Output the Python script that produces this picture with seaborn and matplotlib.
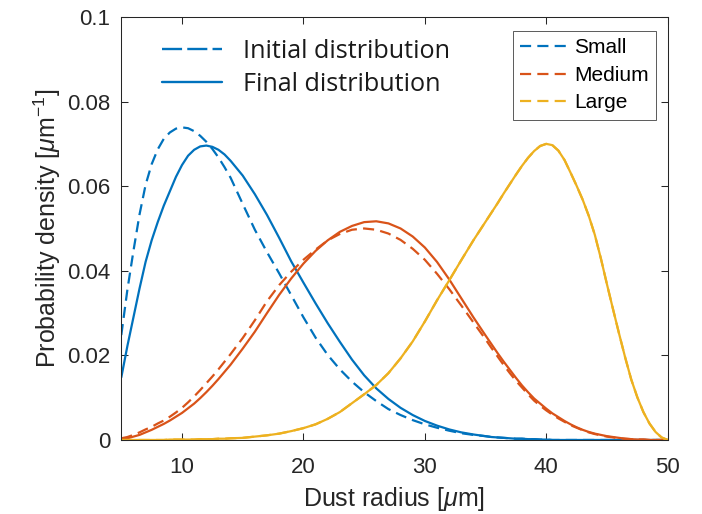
import matplotlib
matplotlib.use('Agg')
import matplotlib.pyplot as plt
import seaborn as sns
import pandas as pd
from matplotlib.lines import Line2D

# ---------------- data ----------------
radius = [5, 5.5, 6, 6.5, 7, 7.5, 8, 8.5, 9, 9.5, 10, 10.5, 11, 11.5, 12, 12.5, 13, 13.5, 14,
          15, 16, 17, 18, 19, 20, 21, 22, 23, 24, 25, 26, 27, 28, 29, 30, 31, 32, 33, 34, 35,
          35.5, 36, 36.5, 37, 37.5, 38, 38.5, 39, 39.5, 40, 40.5, 41, 41.5, 42, 42.5, 43, 43.5,
          44, 44.5, 45, 45.5, 46, 46.5, 47, 47.5, 48, 48.5, 49, 49.5, 50]

small_initial = [0.0248, 0.0355, 0.0447, 0.0533, 0.0603, 0.0652, 0.0687, 0.0712, 0.0727, 0.0736,
                 0.0739, 0.0737, 0.0730, 0.0719, 0.0705, 0.0688, 0.0668, 0.0645, 0.0620,
                 0.0558, 0.0497, 0.0444, 0.0394, 0.0342, 0.0290, 0.0242, 0.0201, 0.0167, 0.0138,
                 0.0113, 0.0092, 0.0073, 0.0059, 0.0047, 0.0037, 0.0029, 0.0022, 0.0016, 0.0012,
                 0.0009,
                 0.0007, 0.0006, 0.0005, 0.0004, 0.0003, 0.0003, 0.0002, 0.0002, 0.0001, 0.0001,
                 0.0, 0.0, 0.0, 0.0, 0.0, 0.0, 0.0, 0.0, 0.0, 0.0,
                 0.0, 0.0, 0.0, 0.0, 0.0, 0.0, 0.0, 0.0, 0.0, 0.0]
small_final = [0.0148, 0.0222, 0.0290, 0.0358, 0.0421, 0.0472, 0.0515, 0.0554, 0.0588, 0.0622,
               0.0650, 0.0672, 0.0686, 0.0694, 0.0696, 0.0693, 0.0686, 0.0675, 0.0660,
               0.0625, 0.0581, 0.0532, 0.0478, 0.0422, 0.0372, 0.0323, 0.0276, 0.0232, 0.0190,
               0.0153, 0.0122, 0.0097, 0.0076, 0.0059, 0.0045, 0.0034, 0.0025, 0.0018, 0.0013,
               0.0009,
               0.0007, 0.0006, 0.0005, 0.0004, 0.0003, 0.0003, 0.0002, 0.0002, 0.0001, 0.0001,
               0.0, 0.0, 0.0, 0.0, 0.0, 0.0, 0.0, 0.0, 0.0, 0.0,
               0.0, 0.0, 0.0, 0.0, 0.0, 0.0, 0.0, 0.0, 0.0, 0.0]
medium_initial = [0.0004, 0.0007, 0.0012, 0.0018, 0.0025, 0.0031, 0.0039, 0.0046, 0.0055, 0.0065,
                  0.0076, 0.0089, 0.0103, 0.0118, 0.0134, 0.0150, 0.0167, 0.0185, 0.0203,
                  0.0241, 0.0283, 0.0328, 0.0366, 0.0398, 0.0426, 0.0450, 0.0472, 0.0487, 0.0497,
                  0.0500, 0.0497, 0.0488, 0.0473, 0.0452, 0.0426, 0.0393, 0.0357, 0.0318, 0.0278,
                  0.0238,
                  0.0217, 0.0197, 0.0177, 0.0158, 0.0140, 0.0124, 0.0108, 0.0093, 0.0081, 0.0070,
                  0.0060, 0.0051, 0.0043, 0.0035, 0.0029, 0.0023, 0.0018, 0.0014, 0.0011, 0.0008,
                  0.0006, 0.0004, 0.0003, 0.0002, 0.0001, 0.0001, 0.0, 0.0, 0.0, 0.0]
medium_final = [0.0002, 0.0004, 0.0008, 0.0012, 0.0018, 0.0024, 0.0031, 0.0038, 0.0046, 0.0055,
                0.0064, 0.0075, 0.0086, 0.0099, 0.0113, 0.0128, 0.0144, 0.0161, 0.0178,
                0.0216, 0.0256, 0.0300, 0.0343, 0.0382, 0.0417, 0.0447, 0.0472, 0.0492, 0.0506,
                0.0515, 0.0517, 0.0512, 0.0500, 0.0481, 0.0455, 0.0421, 0.0380, 0.0335, 0.0290,
                0.0247,
                0.0226, 0.0205, 0.0185, 0.0166, 0.0147, 0.0129, 0.0113, 0.0098, 0.0086, 0.0074,
                0.0063, 0.0054, 0.0045, 0.0037, 0.0030, 0.0024, 0.0019, 0.0015, 0.0012, 0.0009,
                0.0007, 0.0005, 0.0003, 0.0002, 0.0001, 0.0001, 0.0, 0.0, 0.0, 0.0]
large_initial = [0.0, 0.0, 0.0, 0.0, 0.0, 0.0, 0.0, 0.0, 0.0001, 0.0001,
                 0.0001, 0.0001, 0.0001, 0.0002, 0.0002, 0.0002, 0.0003, 0.0003, 0.0004,
                 0.0005, 0.0008, 0.0011, 0.0015, 0.0021, 0.0028, 0.0037, 0.0050, 0.0066, 0.0087,
                 0.0108, 0.0130, 0.0158, 0.0193, 0.0233, 0.0280, 0.0330, 0.0377, 0.0425, 0.0472,
                 0.0516,
                 0.0538, 0.0560, 0.0583, 0.0605, 0.0627, 0.0648, 0.0667, 0.0683, 0.0695, 0.0700,
                 0.0697, 0.0684, 0.0662, 0.0632, 0.0601, 0.0568, 0.0530, 0.0485, 0.0429, 0.0368,
                 0.0309, 0.0251, 0.0195, 0.0143, 0.0101, 0.0066, 0.0039, 0.0019, 0.0006, 0.0]
large_final = [0.0, 0.0, 0.0, 0.0, 0.0, 0.0, 0.0, 0.0, 0.0001, 0.0001,
               0.0001, 0.0001, 0.0001, 0.0002, 0.0002, 0.0002, 0.0003, 0.0003, 0.0004,
               0.0005, 0.0008, 0.0011, 0.0015, 0.0021, 0.0028, 0.0037, 0.0050, 0.0066, 0.0087,
               0.0108, 0.0130, 0.0158, 0.0193, 0.0233, 0.0280, 0.0330, 0.0377, 0.0425, 0.0472,
               0.0516,
               0.0538, 0.0560, 0.0583, 0.0605, 0.0627, 0.0648, 0.0667, 0.0683, 0.0695, 0.0700,
               0.0697, 0.0684, 0.0662, 0.0632, 0.0601, 0.0568, 0.0530, 0.0485, 0.0429, 0.0368,
               0.0309, 0.0251, 0.0195, 0.0143, 0.0101, 0.0066, 0.0039, 0.0019, 0.0006, 0.0]

size_names = ['Small', 'Medium', 'Large']
stage_names = ['Initial', 'Final']
stage_labels = ['Initial distribution', 'Final distribution']
x_ticks = [10, 20, 30, 40, 50]
y_ticks = [0, 0.02, 0.04, 0.06, 0.08, 0.1]
y_tick_labels = ['0', '0.02', '0.04', '0.06', '0.08', '0.1']

# ---------------- long table ----------------
rows = []
for name, ini, fin in zip(size_names,
                          [small_initial, medium_initial, large_initial],
                          [small_final, medium_final, large_final]):
    for r, v in zip(radius, ini):
        rows.append((r, v, name, 'Initial'))
    for r, v in zip(radius, fin):
        rows.append((r, v, name, 'Final'))
df = pd.DataFrame(rows, columns=['radius', 'density', 'size', 'stage'])

# ---------------- style ----------------
sns.set_style('ticks')
plt.rcParams['font.family'] = ['Liberation Sans', 'DejaVu Sans']
plt.rcParams['mathtext.fontset'] = 'custom'
plt.rcParams['mathtext.rm'] = 'Liberation Sans'
plt.rcParams['mathtext.it'] = 'Liberation Sans:italic'
plt.rcParams['mathtext.bf'] = 'Liberation Sans:bold'

colors = ['#0072BD', '#D95319', '#EDB120']
axis_col = '#262626'

fig = plt.figure(figsize=(7.02, 5.14), dpi=100)
ax = fig.add_axes([0.1728, 0.144, 0.7783, 0.8230])

sns.lineplot(data=df, x='radius', y='density', hue='size', style='stage',
             hue_order=size_names, style_order=stage_names, palette=colors,
             dashes={'Initial': (5, 2.8), 'Final': ''}, estimator=None,
             sort=False, legend=False, linewidth=1.6, ax=ax)

ax.set_xlim(5, 50)
ax.set_ylim(0, 0.1)
ax.set_xticks(x_ticks)
ax.set_yticks(y_ticks)
ax.set_yticklabels(y_tick_labels)
ax.tick_params(direction='in', top=True, right=True, length=5, width=0.75,
               color=axis_col, labelcolor=axis_col, labelsize=16)
ax.tick_params(axis='x', pad=12.5)
ax.tick_params(axis='y', pad=8)
for sp in ax.spines.values():
    sp.set_visible(True)
    sp.set_color(axis_col)
    sp.set_linewidth(0.75)

ax.set_xlabel('Dust radius [$\\mu$m]', fontsize=18, color=axis_col, labelpad=5)
ax.set_ylabel('Probability density [$\\mu$m$^{-1}$]', fontsize=18, color=axis_col, labelpad=3)

# legend 1: line style meaning
h1 = [Line2D([], [], color=colors[0], lw=1.7, linestyle=(0, (8.5, 2.2))),
      Line2D([], [], color=colors[0], lw=1.7)]
leg1 = ax.legend(h1, stage_labels, loc='upper left', bbox_to_anchor=(0.0739, 0.948),
                 frameon=False, borderpad=0, borderaxespad=0, handlelength=2.39,
                 handletextpad=0.86, labelspacing=0.3,
                 prop={'family': 'Open Sans', 'size': 18.1})
for t in leg1.get_texts():
    t.set_color('#1a1a1a')
ax.add_artist(leg1)

# legend 2: sizes
h2 = [Line2D([], [], color=c, lw=1.6, linestyle=(0, (5, 2.8))) for c in colors]
leg2 = ax.legend(h2, size_names, loc='upper left', bbox_to_anchor=(0.7169, 0.9669),
                 borderaxespad=0, borderpad=0.35, handlelength=2.5, handletextpad=0.1,
                 labelspacing=0.41, fancybox=False, framealpha=1, edgecolor='#404040',
                 prop={'family': 'Liberation Sans', 'size': 15})
leg2.get_frame().set_linewidth(0.6)
for t in leg2.get_texts():
    t.set_color('#000000')

fig.savefig('out.png', dpi=100)
